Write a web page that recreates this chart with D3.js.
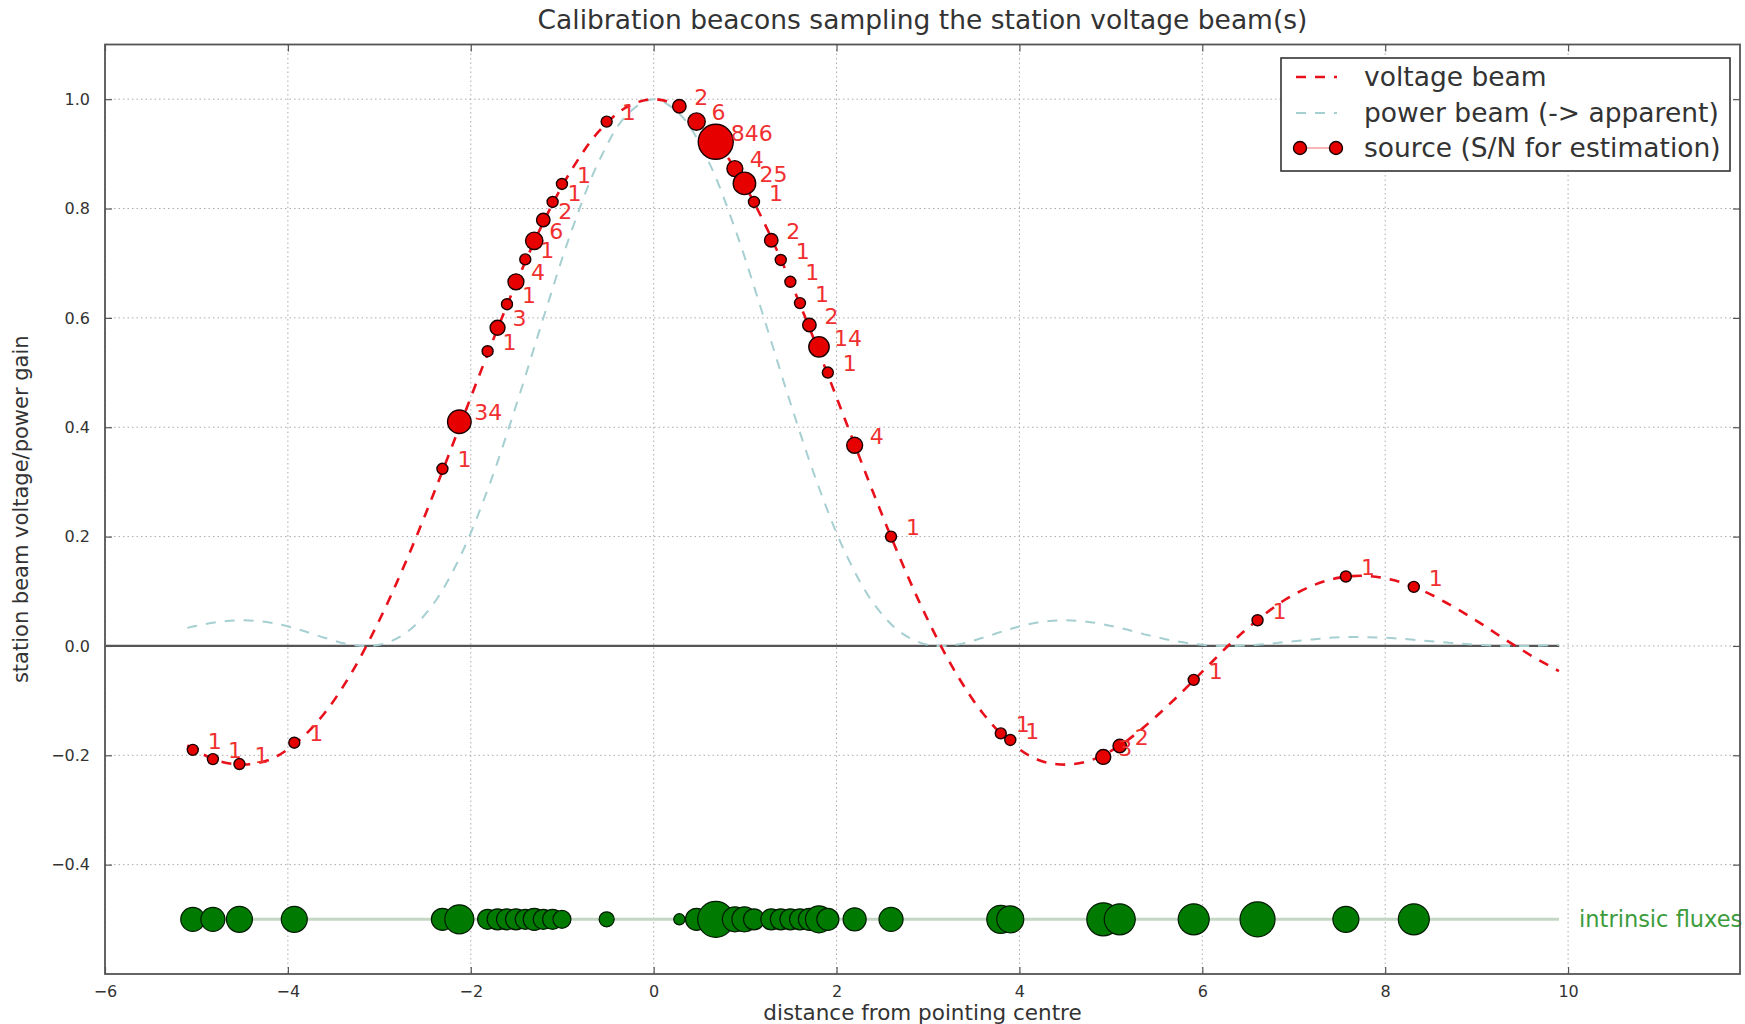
<!DOCTYPE html>
<html>
<head>
<meta charset="utf-8">
<script src="https://cdn.jsdelivr.net/npm/d3@7"></script>
<style>
  html, body { margin: 0; padding: 0; background: #fff; }
  svg { display: block; font-family: "DejaVu Sans", "Liberation Sans", sans-serif; }
</style>
</head>
<body>
<svg id="chart" width="1745" height="1024"></svg>
<script>
// Beam profiles sampled along the distance axis
const beamX = [-5.1, -4.8, -4.5, -4.2, -3.9, -3.6, -3.3, -3.0, -2.7, -2.4, -2.1, -1.8, -1.5, -1.2, -0.9, -0.6, -0.3,
               0.0, 0.3, 0.6, 0.9, 1.2, 1.5, 1.8, 2.1, 2.4, 2.7, 3.0, 3.3, 3.6, 3.9, 4.2, 4.5, 4.8,
               5.1, 5.4, 5.7, 6.0, 6.3, 6.6, 6.9, 7.2, 7.5, 7.8, 8.1, 8.4, 8.7, 9.0, 9.3, 9.6, 9.9];
const voltageBeam = [-0.182, -0.208, -0.217, -0.208, -0.176, -0.123, -0.048, 0.047, 0.158, 0.281, 0.411, 0.541, 0.665, 0.777, 0.870, 0.941, 0.985,
                     1.000, 0.985, 0.941, 0.870, 0.777, 0.665, 0.541, 0.411, 0.281, 0.158, 0.047, -0.048, -0.123, -0.176, -0.208, -0.217, -0.208,
                     -0.182, -0.143, -0.097, -0.047, 0.003, 0.047, 0.084, 0.110, 0.125, 0.128, 0.120, 0.102, 0.076, 0.046, 0.013, -0.018, -0.046];
const powerBeam = [0.033, 0.043, 0.047, 0.043, 0.031, 0.015, 0.002, 0.002, 0.025, 0.079, 0.169, 0.293, 0.442, 0.603, 0.758, 0.886, 0.970,
                   1.000, 0.970, 0.886, 0.758, 0.603, 0.442, 0.293, 0.169, 0.079, 0.025, 0.002, 0.002, 0.015, 0.031, 0.043, 0.047, 0.043,
                   0.033, 0.020, 0.009, 0.002, 0.000, 0.002, 0.007, 0.012, 0.016, 0.016, 0.014, 0.010, 0.006, 0.002, 0.000, 0.000, 0.002];

// Calibration sources: position, sampled voltage gain, S/N, intrinsic flux
const sourceX = [-5.04, -4.82, -4.53, -3.93, -2.31, -2.125, -1.816, -1.707, -1.604, -1.506, -1.404, -1.306, -1.207, -1.105, -1.003,
                 -0.514, 0.281, 0.469, 0.679, 0.888, 0.993, 1.097, 1.286, 1.39, 1.495, 1.60, 1.703, 1.808, 1.905, 2.198, 2.596,
                 3.796, 3.90, 4.917, 5.097, 5.906, 6.604, 7.57, 8.313];
const sourceGain = [-0.190, -0.207, -0.216, -0.177, 0.324, 0.410, 0.539, 0.582, 0.625, 0.666, 0.707, 0.741, 0.779, 0.812, 0.845,
                    0.959, 0.987, 0.959, 0.922, 0.873, 0.846, 0.812, 0.742, 0.706, 0.666, 0.627, 0.587, 0.547, 0.500, 0.367, 0.200,
                    -0.160, -0.172, -0.203, -0.183, -0.062, 0.047, 0.127, 0.108];
const sourceSNR = [1, 1, 1, 1, 1, 34, 1, 3, 1, 4, 1, 6, 2, 1, 1,
                   1, 2, 6, 846, 4, 25, 1, 2, 1, 1, 1, 2, 14, 1, 4, 1,
                   1, 1, 3, 2, 1, 1, 1, 1];
const intrinsicFlux = [32, 32, 56, 56, 18, 133, 10, 13, 13, 13, 10, 18, 10, 10, 5.6,
                       2.4, 0.8, 18, 1000, 42, 42, 13, 13, 13, 13, 13, 18, 75, 18, 24, 32,
                       100, 75, 420, 240, 240, 750, 56, 240];

const xTicks = [-6, -4, -2, 0, 2, 4, 6, 8, 10];
const yTicks = [-0.4, -0.2, 0.0, 0.2, 0.4, 0.6, 0.8, 1.0];
const zeroLineX = [-6, 9.9];
const fluxRowX = [-5.1, 9.9];
const fluxRowLevel = -0.5;

const titleText = "Calibration beacons sampling the station voltage beam(s)";
const xLabel = "distance from pointing centre";
const yLabel = "station beam voltage/power gain";
const legendLabels = ["voltage beam", "power beam (-> apparent)", "source (S/N for estimation)"];
const fluxRowLabel = "intrinsic fluxes";

const svg = d3.select("#chart");
const plot = { left: 105, right: 1740, top: 44.5, bottom: 974 };

const x = d3.scaleLinear().domain([-6, 11.88]).range([plot.left, plot.right]);
const y = d3.scaleLinear().domain([-0.6, 1.1]).range([plot.bottom, plot.top]);
const rSource = d3.scaleLog().domain([1, 846]).range([5.5, 17.5]);
const rFlux = d3.scaleLog().domain([1, 1000]).range([6, 18]);

svg.append("defs").append("clipPath").attr("id", "plotclip")
  .append("rect").attr("x", plot.left).attr("y", plot.top)
  .attr("width", plot.right - plot.left).attr("height", plot.bottom - plot.top);

// dotted grid
const grid = svg.append("g").attr("stroke", "#8a8a8a").attr("stroke-width", 1)
  .attr("stroke-dasharray", "1.5,3").attr("opacity", 0.7);
grid.selectAll("line.gx").data(xTicks).join("line").attr("class", "gx")
  .attr("x1", d => x(d)).attr("x2", d => x(d)).attr("y1", plot.top).attr("y2", plot.bottom);
grid.selectAll("line.gy").data(yTicks).join("line").attr("class", "gy")
  .attr("x1", plot.left).attr("x2", plot.right).attr("y1", d => y(d)).attr("y2", d => y(d));

const body = svg.append("g").attr("clip-path", "url(#plotclip)");

// zero level
body.append("line")
  .attr("x1", x(zeroLineX[0])).attr("x2", x(zeroLineX[1]))
  .attr("y1", y(0)).attr("y2", y(0))
  .attr("stroke", "#555").attr("stroke-width", 2.2);

// baseline for intrinsic fluxes
body.append("line")
  .attr("x1", x(fluxRowX[0])).attr("x2", x(fluxRowX[1]))
  .attr("y1", y(fluxRowLevel)).attr("y2", y(fluxRowLevel))
  .attr("stroke", "#c4d6c4").attr("stroke-width", 3);

const beamLine = d3.line().x((d, i) => x(beamX[i])).y(d => y(d)).curve(d3.curveCatmullRom.alpha(0.5));

body.append("path").datum(powerBeam).attr("d", beamLine)
  .attr("fill", "none").attr("stroke", "#a6cfd2").attr("stroke-width", 2)
  .attr("stroke-dasharray", "10,9");

body.append("path").datum(voltageBeam).attr("d", beamLine)
  .attr("fill", "none").attr("stroke", "#e8101a").attr("stroke-width", 2.6)
  .attr("stroke-dasharray", "10,9");

const sources = sourceX.map((v, i) => ({ x: v, g: sourceGain[i], snr: sourceSNR[i], flux: intrinsicFlux[i] }));

// sampled sources on the beam
body.append("g").selectAll("circle").data(sources).join("circle")
  .attr("cx", d => x(d.x)).attr("cy", d => y(d.g)).attr("r", d => rSource(d.snr))
  .attr("fill", "#e60000").attr("stroke", "#1a0000").attr("stroke-width", 1.4);

body.append("g").selectAll("text").data(sources).join("text")
  .attr("x", d => x(d.x) + 15).attr("y", d => y(d.g) - 9).attr("dy", "0.35em")
  .attr("font-size", 22).attr("fill", "#f03030")
  .text(d => d.snr);

// intrinsic fluxes row
body.append("g").selectAll("circle").data(sources).join("circle")
  .attr("cx", d => x(d.x)).attr("cy", y(fluxRowLevel)).attr("r", d => rFlux(d.flux))
  .attr("fill", "#007a00").attr("stroke", "#001a00").attr("stroke-width", 1.2);

svg.append("text").attr("x", x(10.12)).attr("y", y(fluxRowLevel)).attr("dy", "0.35em")
  .attr("font-size", 22.5).attr("fill", "#3c9c3c").text(fluxRowLabel);

// axes with inward ticks on all four sides
const axB = svg.append("g").attr("transform", `translate(0,${plot.bottom})`)
  .call(d3.axisBottom(x).tickValues(xTicks).tickSizeInner(-7).tickSizeOuter(0).tickPadding(12).tickFormat(d3.format("d")));
const axT = svg.append("g").attr("transform", `translate(0,${plot.top})`)
  .call(d3.axisTop(x).tickValues(xTicks).tickSizeInner(-7).tickSizeOuter(0).tickFormat(""));
const axL = svg.append("g").attr("transform", `translate(${plot.left},0)`)
  .call(d3.axisLeft(y).tickValues(yTicks).tickSizeInner(-7).tickSizeOuter(0).tickPadding(15).tickFormat(d3.format(".1f")));
const axR = svg.append("g").attr("transform", `translate(${plot.right},0)`)
  .call(d3.axisRight(y).tickValues(yTicks).tickSizeInner(-7).tickSizeOuter(0).tickFormat(""));
[axB, axT, axL, axR].forEach(a => {
  a.select(".domain").remove();
  a.selectAll(".tick line").attr("stroke", "#555").attr("stroke-width", 1.2);
  a.selectAll(".tick text").attr("font-size", 16).attr("fill", "#333").attr("font-family", "DejaVu Sans, sans-serif");
});

// frame
svg.append("rect").attr("x", plot.left).attr("y", plot.top)
  .attr("width", plot.right - plot.left).attr("height", plot.bottom - plot.top)
  .attr("fill", "none").attr("stroke", "#555").attr("stroke-width", 1.8);

// titles
svg.append("text").attr("x", (plot.left + plot.right) / 2).attr("y", 29)
  .attr("text-anchor", "middle").attr("font-size", 26.5).attr("fill", "#333").text(titleText);
svg.append("text").attr("x", (plot.left + plot.right) / 2).attr("y", 1020)
  .attr("text-anchor", "middle").attr("font-size", 21.5).attr("fill", "#333").text(xLabel);
svg.append("text").attr("transform", `translate(28,${(plot.top + plot.bottom) / 2}) rotate(-90)`)
  .attr("text-anchor", "middle").attr("font-size", 21).attr("fill", "#333").text(yLabel);

// legend
const lg = svg.append("g");
lg.append("rect").attr("x", 1281).attr("y", 58).attr("width", 449).attr("height", 113)
  .attr("fill", "#fff").attr("stroke", "#333").attr("stroke-width", 1.6);
const rowY = [77, 113, 148];
lg.append("line").attr("x1", 1296).attr("x2", 1337).attr("y1", rowY[0]).attr("y2", rowY[0])
  .attr("stroke", "#e8101a").attr("stroke-width", 2.6).attr("stroke-dasharray", "10,9");
lg.append("line").attr("x1", 1296).attr("x2", 1337).attr("y1", rowY[1]).attr("y2", rowY[1])
  .attr("stroke", "#a6cfd2").attr("stroke-width", 2).attr("stroke-dasharray", "10,9");
lg.append("line").attr("x1", 1300).attr("x2", 1336).attr("y1", rowY[2]).attr("y2", rowY[2])
  .attr("stroke", "#f3a0a0").attr("stroke-width", 1.5);
lg.selectAll("circle").data([1300, 1336]).join("circle")
  .attr("cx", d => d).attr("cy", rowY[2]).attr("r", 6.5)
  .attr("fill", "#e60000").attr("stroke", "#1a0000").attr("stroke-width", 1.4);
lg.selectAll("text").data(legendLabels).join("text")
  .attr("x", 1364).attr("y", (d, i) => rowY[i]).attr("dy", "0.35em")
  .attr("font-size", 26.5).attr("fill", "#333").text(d => d);
</script>
</body>
</html>
